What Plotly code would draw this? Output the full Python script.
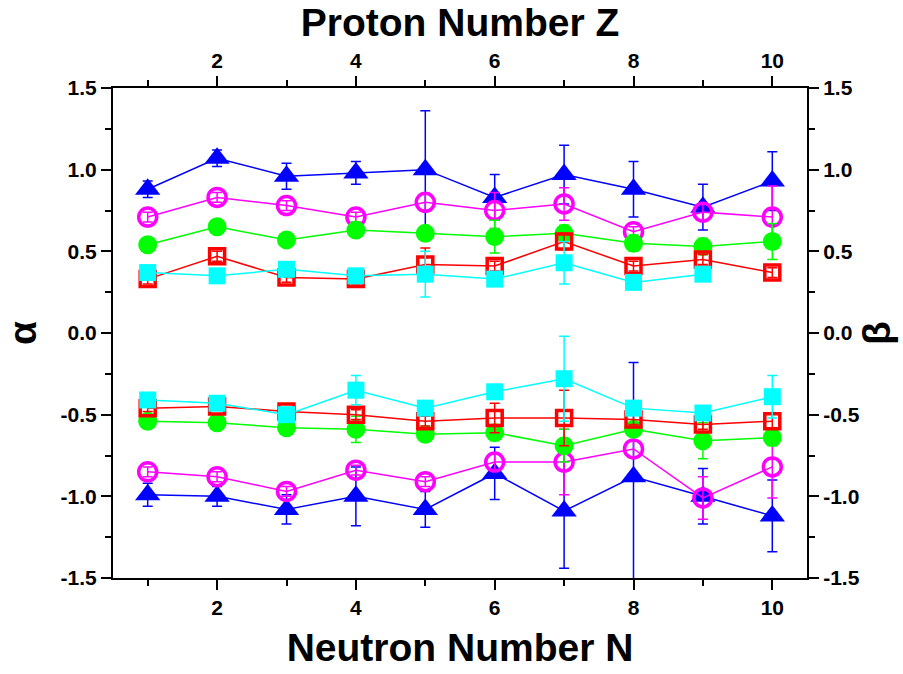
import plotly.graph_objects as go

N = [1, 2, 3, 4, 5, 6, 7, 8, 9, 10]
N_cyan_up = [1, 2, 3, 4, 5, 6, 7, 8, 9]

# upper set (positive)
blue_up = [0.88, 1.07, 0.96, 0.98, 1.00, 0.83, 0.97, 0.88, 0.77, 0.93]
blue_up_err = [0.05, 0.05, 0.08, 0.07, 0.36, 0.14, 0.18, 0.17, 0.14, 0.18]
mag_up = [0.71, 0.83, 0.78, 0.71, 0.80, 0.75, 0.79, 0.62, 0.74, 0.71]
mag_up_err = [0.03, 0.03, 0.03, 0.03, 0.05, 0.11, 0.10, 0.03, 0.05, 0.19]
grn_up = [0.54, 0.65, 0.57, 0.63, 0.61, 0.59, 0.61, 0.55, 0.53, 0.56]
grn_up_err = [0.03, 0.03, 0.03, 0.03, 0.03, 0.10, 0.05, 0.05, 0.05, 0.11]
red_up = [0.33, 0.47, 0.34, 0.33, 0.42, 0.41, 0.56, 0.41, 0.45, 0.37]
red_up_err = [0.03, 0.03, 0.03, 0.03, 0.10, 0.03, 0.05, 0.03, 0.03, 0.03]
cyn_up = [0.37, 0.35, 0.39, 0.35, 0.36, 0.33, 0.43, 0.31, 0.36]
cyn_up_err = [0.03, 0.03, 0.03, 0.03, 0.14, 0.03, 0.13, 0.03, 0.03]

# lower set (negative)
blue_lo = [-0.99, -1.00, -1.08, -1.00, -1.08, -0.86, -1.09, -0.88, -1.00, -1.12]
blue_lo_err = [0.07, 0.06, 0.09, 0.18, 0.11, 0.16, 0.35, 0.70, 0.17, 0.22]
mag_lo = [-0.85, -0.88, -0.97, -0.84, -0.91, -0.79, -0.79, -0.71, -1.01, -0.82]
mag_lo_err = [0.03, 0.03, 0.03, 0.03, 0.03, 0.05, 0.20, 0.05, 0.13, 0.19]
grn_lo = [-0.54, -0.55, -0.58, -0.59, -0.62, -0.61, -0.69, -0.59, -0.66, -0.64]
grn_lo_err = [0.03, 0.03, 0.03, 0.08, 0.03, 0.05, 0.10, 0.03, 0.11, 0.05]
red_lo = [-0.46, -0.45, -0.48, -0.50, -0.54, -0.52, -0.52, -0.53, -0.56, -0.54]
red_lo_err = [0.02, 0.02, 0.02, 0.03, 0.03, 0.09, 0.17, 0.03, 0.03, 0.05]
cyn_lo = [-0.41, -0.43, -0.50, -0.35, -0.46, -0.36, -0.28, -0.46, -0.49, -0.39]
cyn_lo_err = [0.03, 0.03, 0.03, 0.09, 0.03, 0.03, 0.26, 0.03, 0.03, 0.13]

tick_vals = [2, 4, 6, 8, 10]
tick_text = ["2", "4", "6", "8", "10"]
y_ticks = [-1.5, -1.0, -0.5, 0.0, 0.5, 1.0, 1.5]
y_text = ["-1.5", "-1.0", "-0.5", "0.0", "0.5", "1.0", "1.5"]

FONT = "Liberation Sans Narrow, Arial Narrow, Liberation Sans, Arial"

BLUE = "#0000ff"
MAG = "#ff00ff"
GRN = "#00ff00"
RED = "#ff0000"
CYN = "#00ffff"

styles = {
    "blue": dict(symbol="triangle-up", size=22, color=BLUE, line=dict(width=0)),
    "mag": dict(symbol="circle-open", size=18, color=MAG, line=dict(width=3.5, color=MAG)),
    "grn": dict(symbol="circle", size=19, color=GRN, line=dict(width=0)),
    "red": dict(symbol="square-open", size=15, color=RED, line=dict(width=3.5, color=RED)),
    "cyn": dict(symbol="square", size=17, color=CYN, line=dict(width=0)),
}
colors = {"blue": BLUE, "mag": MAG, "grn": GRN, "red": RED, "cyn": CYN}

series = [
    ("blue", N, blue_up, blue_up_err), ("mag", N, mag_up, mag_up_err),
    ("grn", N, grn_up, grn_up_err), ("red", N, red_up, red_up_err),
    ("cyn", N_cyan_up, cyn_up, cyn_up_err),
    ("blue", N, blue_lo, blue_lo_err), ("mag", N, mag_lo, mag_lo_err),
    ("grn", N, grn_lo, grn_lo_err), ("red", N, red_lo, red_lo_err),
    ("cyn", N, cyn_lo, cyn_lo_err),
]

fig = go.Figure()
for key, xs, ys, es in series:
    fig.add_trace(go.Scatter(
        x=xs, y=ys, mode="lines+markers",
        line=dict(color=colors[key], width=1.5),
        marker=styles[key],
        error_y=dict(type="data", array=es, visible=True, color=colors[key],
                     thickness=1.5, width=5),
        showlegend=False, cliponaxis=False,
    ))

# invisible trace to activate secondary axes
fig.add_trace(go.Scatter(x=[1], y=[0], xaxis="x2", yaxis="y2", mode="markers",
                         marker=dict(opacity=0), showlegend=False, hoverinfo="skip"))

TICKFONT = dict(family=FONT, size=21, color="black", weight="bold")
TITLEFONT = dict(family=FONT, size=39, color="black", weight="bold")

axis_common = dict(showline=True, linecolor="black", linewidth=2, mirror=False,
                   ticks="outside", tickcolor="black", tickwidth=2, showgrid=False,
                   zeroline=False, tickfont=TICKFONT)

xminor = dict(tickvals=[1, 3, 5, 7, 9], ticklen=6, tickwidth=2,
              tickcolor="black", ticks="outside")
yminor = dict(dtick=0.25, ticklen=6, tickwidth=2, tickcolor="black", ticks="outside")

fig.update_layout(
    width=903, height=674,
    margin=dict(l=113, r=95, t=88, b=94),
    paper_bgcolor="white", plot_bgcolor="white",
    xaxis=dict(range=[0.5, 10.5], tickvals=tick_vals, ticktext=tick_text, ticklen=10,
               minor=xminor,
               title=dict(text="Neutron Number N", standoff=15, font=TITLEFONT),
               **axis_common),
    xaxis2=dict(range=[0.5, 10.5], overlaying="x", side="top", tickvals=tick_vals,
                ticktext=tick_text, ticklen=10, minor=xminor,
                title=dict(text="Proton Number Z", standoff=0, font=TITLEFONT),
                **axis_common),
    yaxis=dict(range=[-1.5, 1.5], tickvals=y_ticks, ticktext=y_text, ticklen=10,
               minor=yminor,
               title=dict(text="α", standoff=12, font=TITLEFONT),
               **axis_common),
    yaxis2=dict(range=[-1.5, 1.5], overlaying="y", side="right", anchor="x",
                tickvals=y_ticks, ticktext=y_text, ticklen=10, minor=yminor,
                title=dict(text="β", standoff=4, font=TITLEFONT),
                **axis_common),
)

fig.write_html("out.html")
